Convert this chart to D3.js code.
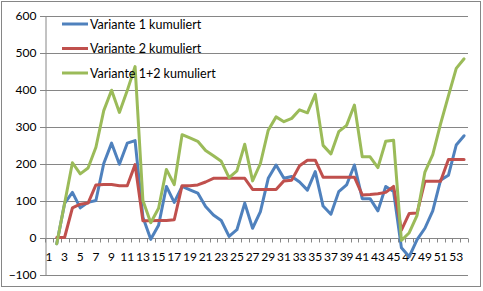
<!DOCTYPE html>
<html>
<head>
<meta charset="utf-8">
<script src="https://cdn.jsdelivr.net/npm/d3@7"></script>
<style>
  html, body { margin: 0; padding: 0; background: #fff; }
  svg { display: block; }
  text { font-family: Lato, "Open Sans", sans-serif; fill: #000; }
</style>
</head>
<body>
<script>
const categories = [1,2,3,4,5,6,7,8,9,10,11,12,13,14,15,16,17,18,19,20,21,22,23,24,25,26,27,
  28,29,30,31,32,33,34,35,36,37,38,39,40,41,42,43,44,45,46,47,48,49,50,51,52,53,54];
const tickLabels = [1,3,5,7,9,11,13,15,17,19,21,23,25,27,29,31,33,35,37,39,41,43,45,47,49,51,53];
const yTicks = [-100,0,100,200,300,400,500,600];
const seriesNames = ["Variante 1 kumuliert","Variante 2 kumuliert","Variante 1+2 kumuliert"];
const variante1 = [null,-17,92,122,80,95,100,200,255,198,255,262,55,-5,33,138,95,138,129,120,84,61,46,3,21,93,25,
  70,160,196,160,165,150,128,178,85,63,124,142,196,105,105,72,138,124,-28,-52,-6,25,72,155,168,250,275];
const variante2 = [null,0,0,80,90,93,142,143,143,140,140,197,45,45,46,46,48,140,140,142,150,160,160,160,160,160,130,
  130,130,130,153,155,194,209,209,163,163,163,163,163,115,116,118,122,138,20,65,66,152,152,152,211,211,211];
const variante12 = [null,-17,92,202,172,188,244,343,398,338,397,462,100,40,79,184,143,278,269,260,235,221,206,162,180,252,153,
  200,290,326,313,322,345,337,387,249,226,286,303,358,218,218,189,260,263,-8,13,60,177,224,307,383,457,483];
const colors = ["#4F81BD","#C0504D","#9BBB59"];

const W = 483, H = 291;
const svg = d3.select("body").append("svg").attr("width", W).attr("height", H);

svg.append("rect").attr("x",1.5).attr("y",1.5).attr("width",479).attr("height",285)
  .attr("fill","#fff").attr("stroke","#868686").attr("stroke-width",1);

const x = d3.scaleBand().domain(categories).range([45, 468]).padding(0);
const y = d3.scaleLinear().domain([-100, 600]).range([274.5, 15.5]);

// gridlines
svg.append("g").selectAll("line").data(yTicks).join("line")
  .attr("x1", 40).attr("x2", 468)
  .attr("y1", d => Math.round(y(d)) + 0.5).attr("y2", d => Math.round(y(d)) + 0.5)
  .attr("stroke", "#868686").attr("stroke-width", 1);

// y axis
const yAxis = svg.append("g").attr("transform", "translate(45.5,0)")
  .call(d3.axisLeft(y).tickValues(yTicks).tickSize(0).tickPadding(9).tickFormat(d3.format("d")));
yAxis.select(".domain").attr("stroke", "#868686");
yAxis.selectAll("text").attr("font-size", "12px").attr("font-family", "Lato, sans-serif").attr("fill","#000");

// x axis at y=0
const y0 = Math.round(y(0)) + 0.5;
const xg = svg.append("g").attr("transform", `translate(0,${y0})`);
xg.append("line").attr("x1", 45).attr("x2", 468).attr("y1", 0).attr("y2", 0).attr("stroke", "#868686");
const bounds = categories.map(c => x(c)).concat([x(categories[categories.length-1]) + x.bandwidth()]);
xg.selectAll("line.tk").data(bounds).join("line").attr("class","tk")
  .attr("x1", d => Math.round(d) + 0.5).attr("x2", d => Math.round(d) + 0.5)
  .attr("y1", 0).attr("y2", 4).attr("stroke", "#868686");
const xAxis = xg.append("g")
  .call(d3.axisBottom(x).tickValues(tickLabels).tickSize(0).tickPadding(14));
xAxis.select(".domain").remove();
xAxis.selectAll("text").attr("font-size", "12px").attr("font-family", "Lato, sans-serif").attr("fill","#000");

// lines
const allSeries = [variante1, variante2, variante12];
const line = d3.line()
  .defined(d => d.v !== null)
  .x(d => x(d.c) + x.bandwidth() / 2)
  .y(d => y(d.v));
allSeries.forEach((vals, i) => {
  svg.append("path")
    .datum(categories.map((c, j) => ({c, v: vals[j]})))
    .attr("d", line)
    .attr("fill", "none")
    .attr("stroke", colors[i])
    .attr("stroke-width", 3)
    .attr("stroke-linejoin", "round")
    .attr("stroke-linecap", "round");
});

// legend
const lg = svg.append("g");
seriesNames.forEach((name, i) => {
  const ly = 24 + i * 24.5;
  lg.append("line").attr("x1", 62).attr("x2", 88).attr("y1", ly).attr("y2", ly)
    .attr("stroke", colors[i]).attr("stroke-width", 3);
  lg.append("text").attr("x", 90).attr("y", ly + 4.5).attr("font-size", "12.5px").text(name);
});
</script>
</body>
</html>
